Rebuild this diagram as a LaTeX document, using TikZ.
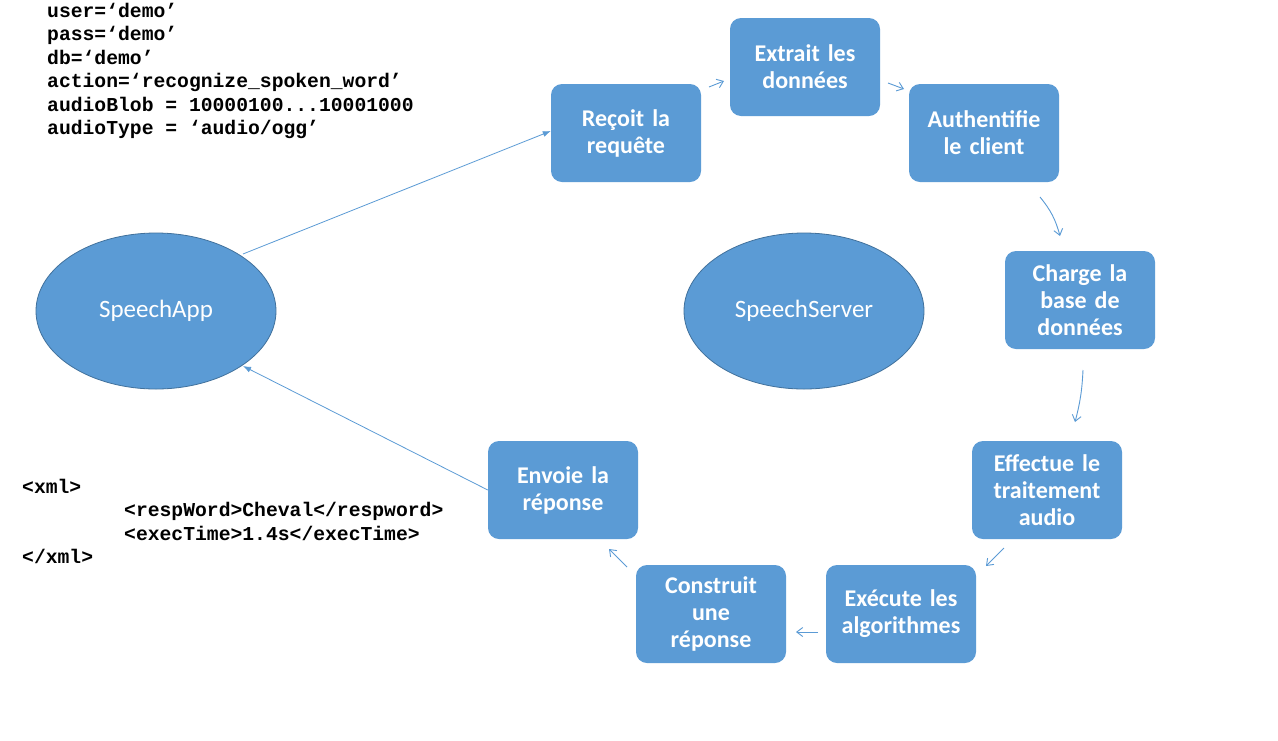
\documentclass[tikz,border=0pt]{standalone}
\usepackage{fontspec}
\setmainfont{Carlito}[WordSpace=0.85]
\newfontfamily\codefont{Liberation Mono}
\usetikzlibrary{arrows.meta,shapes.geometric}
\definecolor{boxblue}{HTML}{5B9BD5}
\definecolor{edgeblue}{HTML}{41719C}
\definecolor{arrblue}{HTML}{5B9BD5}
\tikzset{
  stepbox/.style={rectangle, rounded corners=11pt, fill=boxblue, draw=none,
    minimum width=150pt, minimum height=98pt, text width=146pt, align=center,
    text=white, font=\fontsize{24}{27}\selectfont\bfseries, inner sep=0pt},
  actor/.style={ellipse, fill=boxblue, draw=edgeblue, line width=0.8pt,
    minimum width=240pt, minimum height=156pt, inner sep=0pt,
    text=white, font=\fontsize{25}{28}\selectfont},
  codeline/.style={anchor=base west, inner sep=0pt,
    font=\codefont\fontsize{19.7}{23}\selectfont\bfseries},
  small/.style={draw=arrblue, line width=0.9pt, -{Straight Barb[length=6pt,width=9pt]}},
  long/.style={draw=arrblue, line width=0.8pt, -{Latex[length=8pt,width=6pt]}}
}
\begin{document}
\begin{tikzpicture}[x=1pt,y=-1pt]
\useasboundingbox (0,0) rectangle (1278,740);
\fill[white] (0,0) rectangle (1278,740);

% code text top
\node[codeline] (c1) at (47,17) {user=‘demo’};
\node[codeline] (c2) at (47,40.5) {pass=‘demo’};
\node[codeline] (c3) at (47,64) {db=‘demo’};
\node[codeline] (c4) at (47,87.5) {action=‘recognize\_spoken\_word’};
\node[codeline] (c5) at (47,111) {audioBlob = 10000100...10001000};
\node[codeline] (c6) at (47,134.5) {audioType = ‘audio/ogg’};

% xml text
\node[codeline] (x1) at (22,493) {<xml>};
\node[codeline] (x2) at (124,516.5) {<respWord>Cheval</respword>};
\node[codeline] (x3) at (124,540) {<execTime>1.4s</execTime>};
\node[codeline] (x4) at (22,563.5) {</xml>};

% ellipses
\node[actor] (app) at (156,311) {SpeechApp};
\node[actor] (srv) at (804,311) {SpeechServer};

% boxes
\node[stepbox] (rq) at (626,133) {Reçoit la\\requête};
\node[stepbox] (ex) at (805,67) {Extrait les\\données};
\node[stepbox] (au) at (984,133) {Authentifie\\le client};
\node[stepbox] (ch) at (1080,300) {Charge la\\base de\\données};
\node[stepbox] (ef) at (1047,490) {Effectue le\\traitement\\audio};
\node[stepbox] (xe) at (901,614) {Exécute les\\algorithmes};
\node[stepbox] (co) at (711,614) {Construit\\une\\réponse};
\node[stepbox] (en) at (563,490) {Envoie la\\réponse};

% small arrow coordinates
\coordinate (a1s) at (709,87);
\coordinate (a1e) at (724,81);
\coordinate (a2s) at (888,83);
\coordinate (a2e) at (904,89);
\coordinate (a3s) at (1040,197);
\coordinate (a3e) at (1060,236);
\coordinate (a4s) at (1083,370);
\coordinate (a4e) at (1075,422);
\coordinate (a5s) at (1004,548);
\coordinate (a5e) at (986,566);
\coordinate (a6s) at (818,632);
\coordinate (a6e) at (796,632);
\coordinate (a7s) at (627,567);
\coordinate (a7e) at (609,549);

\draw[small] (a1s) -- (a1e);
\draw[small] (a2s) -- (a2e);
\draw[small] (a3s) to[bend left=12] (a3e);
\draw[small] (a4s) to[bend left=6] (a4e);
\draw[small] (a5s) -- (a5e);
\draw[small] (a6s) -- (a6e);
\draw[small] (a7s) -- (a7e);

% long arrows
\coordinate (l1s) at (243,254);
\coordinate (l2e) at (243,366);
\draw[long] (l1s) -- (rq.west |- 0,131);
\draw[long] (en.west) -- (l2e);
\end{tikzpicture}
\end{document}
